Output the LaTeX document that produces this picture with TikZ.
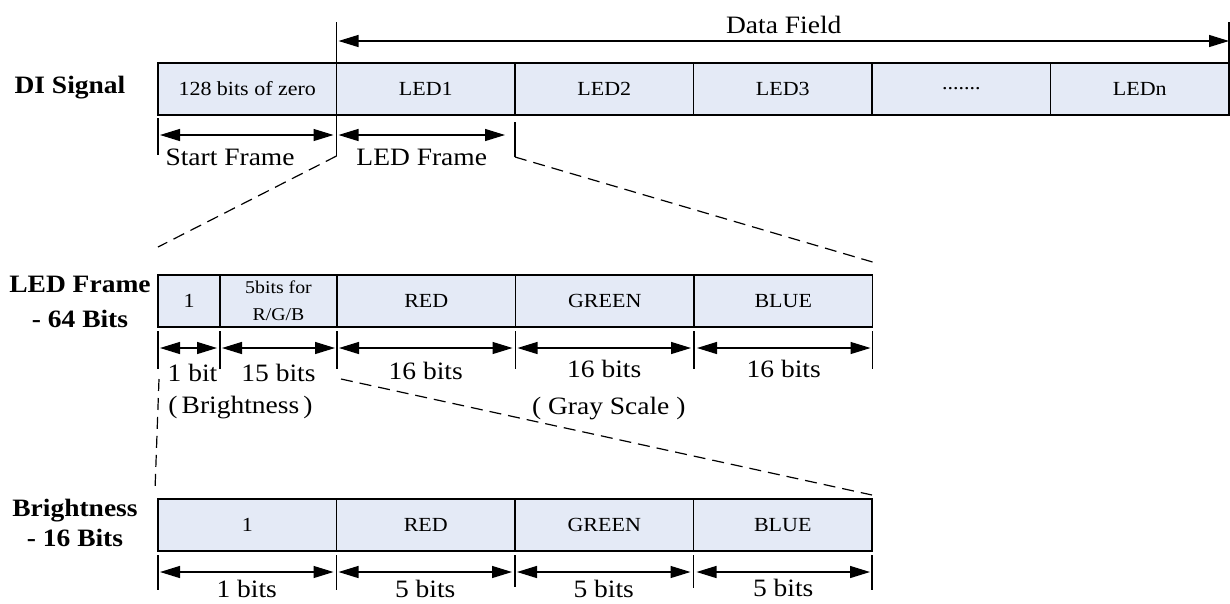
\documentclass[tikz,border=0pt]{standalone}
\usepackage{fontspec}
\setmainfont{Liberation Serif}[FakeStretch=1.1]
\usetikzlibrary{arrows.meta,positioning,calc}
\definecolor{cellfill}{RGB}{228,234,246}

\begin{document}
\begin{tikzpicture}[
  x=1pt, y=-1pt,
  >={Triangle[length=20pt,width=12pt]},
  box/.style={draw, fill=cellfill, line width=1.2pt, outer sep=0pt, inner sep=0pt,
    minimum width=178.5pt, minimum height=52pt, font=\fontsize{20}{22}\selectfont},
  title/.style={font=\bfseries\fontsize{25}{30}\selectfont, align=center},
  lbl/.style={font=\fontsize{25}{30}\selectfont},
  dim/.style={<->, line width=1.3pt},
  tick/.style={line width=1.2pt},
  zoomline/.style={line width=1.2pt, dash pattern=on 12pt off 7pt}
]
\useasboundingbox (0,0) rectangle (1230,603);

% DI signal row
\node[box, anchor=north west] (zero) at (158,63) {128 bits of zero};
\node[box, right=0pt of zero] (led1) {LED1};
\node[box, right=0pt of led1] (led2) {LED2};
\node[box, right=0pt of led2] (led3) {LED3};
\node[box, right=0pt of led3] (dots) {.......};
\node[box, right=0pt of dots] (ledn) {LEDn};
\node[title] (disig) at (70,88) {DI Signal};

% Data field span
\draw[tick] (led1.north west) -- ++(0,-41) coordinate (dfl);
\draw[tick] (ledn.north east) -- ++(0,-41) coordinate (dfr);
\draw[dim] ($(dfl)+(2,19)$) -- ($(dfr)+(0,19)$)
  node[midway, yshift=16pt, lbl] {Data Field};

% Start frame and LED frame spans
\draw[tick] ($(zero.south west)+(0,3)$) -- ++(0,37);
\draw[tick] ($(zero.south east)+(0,1)$) -- ++(0,40) coordinate (c1);
\draw[tick] ($(led2.south west)+(0,7)$) -- ++(0,35) coordinate (c2);
\draw[dim] ($(zero.south west)+(2,20)$) -- ($(zero.south east)+(-3,20)$);
\node[lbl, anchor=west] at ($(zero.south west)+(4,42)$) {Start Frame};
\draw[dim] ($(led1.south west)+(2,20)$) -- ($(led1.south east)+(-10,20)$)
  node[midway, yshift=-22pt, lbl] {LED Frame};

% LED frame row
\node[box, anchor=north west, minimum width=62pt] (one) at (158,275) {1};
\node[box, right=0pt of one, minimum width=117pt, align=center,
  font=\fontsize{18}{27}\selectfont] (rgb) {5bits for\\R/G/B};
\node[box, right=0pt of rgb] (red) {RED};
\node[box, right=0pt of red] (green) {GREEN};
\node[box, right=0pt of green] (blue) {BLUE};
\node[title, font=\bfseries\fontsize{25}{35}\selectfont] (ledfr) at (80,302) {LED Frame\\- 64 Bits};

% zoom from LED1 to LED frame
\draw[zoomline] (c1) -- ($(one.north west)+(0,-28)$);
\draw[zoomline] (c2) -- ($(blue.north east)+(0,-13)$);

% LED frame spans
\draw[tick] ($(one.south west)+(0,4)$) -- ++(0,38);
\draw[tick] ($(one.south east)+(0,4)$) -- ++(0,38);
\draw[tick] ($(rgb.south east)+(0,4)$) -- ++(0,38);
\draw[tick] ($(red.south east)+(0,4)$) -- ++(0,38);
\draw[tick] ($(green.south east)+(0,4)$) -- ++(0,38);
\draw[tick] ($(blue.south east)+(0,4)$) -- ++(0,38);
\draw[dim] ($(one.south west)+(2,21)$) -- ($(one.south east)+(-3,21)$)
  node[midway, xshift=4pt, yshift=-25pt, lbl] {1 bit};
\draw[dim] ($(rgb.south west)+(2,21)$) -- ($(rgb.south east)+(-2,21)$)
  node[midway, yshift=-25pt, lbl] {15 bits};
\draw[dim] ($(red.south west)+(2,21)$) -- ($(red.south east)+(-3,21)$)
  node[midway, yshift=-23pt, lbl] {16 bits};
\draw[dim] ($(green.south west)+(2,21)$) -- ($(green.south east)+(-3,21)$)
  node[midway, yshift=-21pt, lbl] {16 bits};
\draw[dim] ($(blue.south west)+(3,21)$) -- ($(blue.south east)+(-2,21)$)
  node[midway, yshift=-21pt, lbl] {16 bits};
\node[lbl] at ($(rgb.south)+(-38,81)$) {(\,Brightness\,)};
\node[lbl] at ($(green.south)+(4,82)$) {( Gray Scale )};

% Brightness row
\node[box, anchor=north west] (bone) at (158,499) {1};
\node[box, right=0pt of bone] (bred) {RED};
\node[box, right=0pt of bred] (bgreen) {GREEN};
\node[box, right=0pt of bgreen] (bblue) {BLUE};
\node[title] (bright) at (75,523) {Brightness\\- 16 Bits};

% zoom from brightness bits to brightness row
\draw[zoomline] ($(one.south west)+(1,52)$) -- ($(bone.north west)+(-3,-9)$);
\draw[zoomline] ($(rgb.south east)+(4,52)$) -- ($(bblue.north east)+(0,-4)$);

% Brightness spans
\draw[tick] ($(bone.south west)+(0,4)$) -- ++(0,35);
\draw[tick] ($(bone.south east)+(0,4)$) -- ++(0,35);
\draw[tick] ($(bred.south east)+(0,4)$) -- ++(0,32);
\draw[tick] ($(bgreen.south east)+(0,4)$) -- ++(0,33);
\draw[tick] ($(bblue.south east)+(0,4)$) -- ++(0,35);
\draw[dim] ($(bone.south west)+(2,21)$) -- ($(bone.south east)+(-3,21)$)
  node[midway, yshift=-17pt, lbl] {1 bits};
\draw[dim] ($(bred.south west)+(2,21)$) -- ($(bred.south east)+(-3,21)$)
  node[midway, yshift=-17pt, lbl] {5 bits};
\draw[dim] ($(bgreen.south west)+(2,21)$) -- ($(bgreen.south east)+(-3,21)$)
  node[midway, yshift=-17pt, lbl] {5 bits};
\draw[dim] ($(bblue.south west)+(3,21)$) -- ($(bblue.south east)+(-2,21)$)
  node[midway, yshift=-16pt, lbl] {5 bits};

\end{tikzpicture}
\end{document}
